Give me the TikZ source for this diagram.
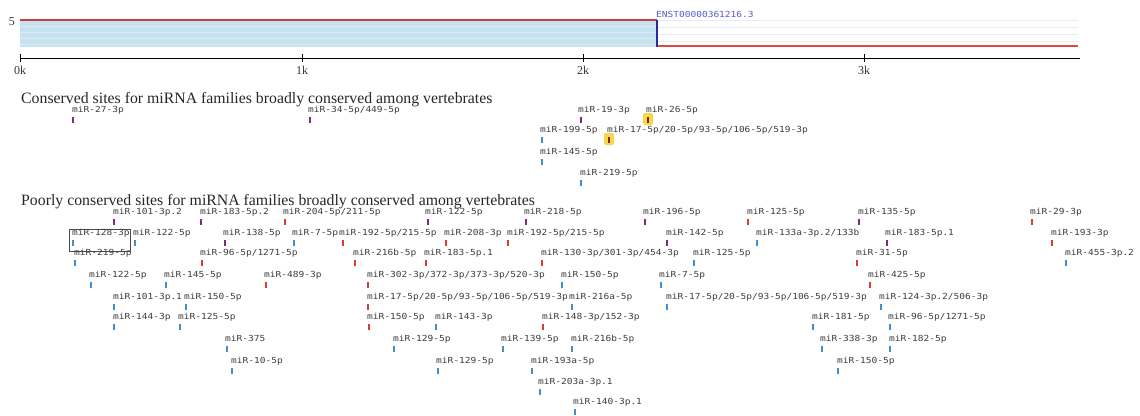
\documentclass[tikz,border=0pt]{standalone}
\usepackage{fontspec}
\setmainfont{Liberation Serif}
\newfontfamily\lblfont[FakeStretch=1.14]{DejaVu Sans Mono}
\definecolor{mpurple}{HTML}{7D2B7D}
\definecolor{mred}{HTML}{D93B3B}
\definecolor{mblue}{HTML}{3D8FD6}
\definecolor{mdark}{HTML}{8C2020}
\definecolor{hlyellow}{HTML}{F6D84A}
\definecolor{lblgray}{HTML}{3C3C3C}
\definecolor{trackblue}{HTML}{C6E2F0}
\definecolor{trackred}{HTML}{C93C3C}
\definecolor{trackred2}{HTML}{E04848}
\definecolor{utrblue}{HTML}{2A2AA0}
\definecolor{enstblue}{HTML}{5A5ACC}
\definecolor{faint}{HTML}{E6EDF3}
\newcommand\mirlab[6]{%
  \node[lbl] (#1) at (#2,{-#3-2.5}) {#4};
  \node[mk,fill=#5] (#1m) at (#6,{-#3-10}) {};}
\newcommand\mirhl[5]{%
  \node[lbl] (#1) at (#2,{-#3-2.5}) {#4};
  \node[hlbox] (#1h) at (#5,{-#3-9}) {};
  \node[mk,fill=mdark] (#1m) at (#5,{-#3-10}) {};}
\begin{document}
\begin{tikzpicture}[x=1pt,y=1pt,
  lbl/.style={font=\lblfont\fontsize{8.35}{9}\selectfont, text=lblgray, anchor=base west, inner sep=0pt},
  mk/.style={draw=none, minimum width=2.8pt, minimum height=6.5pt, inner sep=0pt},
  hlbox/.style={draw=none, fill=hlyellow, rounded corners=2pt, minimum width=10pt, minimum height=12pt, inner sep=0pt},
  title/.style={font=\fontsize{15.8}{18}\selectfont, anchor=base west, inner sep=0pt, text=black!85},
  axlbl/.style={font=\fontsize{12}{14}\selectfont, inner sep=0pt, text=black!80},
  tick/.style={line width=1pt, black},
]
\useasboundingbox (0,0) rectangle (1140,-415);
% ---- transcript track
\fill[trackblue] (20,-20) rectangle (657,-47);
\foreach \yy in {26,32,38,44} \draw[white, opacity=0.35, line width=0.6pt] (20,-\yy) -- (657,-\yy);
\foreach \yy in {20,27,34,41} \draw[faint, line width=0.8pt] (657,-\yy) -- (1078,-\yy);
\draw[trackred, line width=2.8pt] (20,-20) -- (657,-20);
\draw[trackred2, line width=2.8pt] (657,-46) -- (1078,-46);
\draw[utrblue, line width=2.8pt] (657,-20) -- (657,-47);
\node[font=\lblfont\fontsize{8.35}{9}\selectfont, text=enstblue, anchor=base west, inner sep=0pt] (enst) at (656,-17) {ENST00000361216.3};
\node[axlbl] (five) at (12,-22) {5};
% ---- axis
\draw[black, line width=1pt] (20,-58) -- (1080,-58);
\foreach \xx/\tt in {20/0k,302/1k,583/2k,864/3k}{
  \draw[tick] (\xx,-54) -- (\xx,-62);
  \node[axlbl] at (\xx,-70.5) {\tt};
}
% ---- conserved
\node[title] (t1) at (21,-103.5) {Conserved sites for miRNA families broadly conserved among vertebrates};
\mirlab{c1}{72}{110}{miR-27-3p}{mpurple}{73}
\mirlab{c2}{308}{110}{miR-34-5p/449-5p}{mpurple}{310}
\mirlab{c3}{578}{110}{miR-19-3p}{mpurple}{581}
\mirhl{c4}{646}{110}{miR-26-5p}{648}
\mirlab{c5}{540}{130}{miR-199-5p}{mblue}{542}
\mirhl{c6}{607}{130}{miR-17-5p/20-5p/93-5p/106-5p/519-3p}{609}
\mirlab{c7}{540}{152}{miR-145-5p}{mblue}{542}
\mirlab{c8}{580}{173}{miR-219-5p}{mblue}{581}
% ---- poorly conserved
\node[title] (t2) at (21,-205) {Poorly conserved sites for miRNA families broadly conserved among vertebrates};
% row 1
\mirlab{a1}{113}{212}{miR-101-3p.2}{mpurple}{114}
\mirlab{a2}{200}{212}{miR-183-5p.2}{mpurple}{201}
\mirlab{a3}{283}{212}{miR-204-5p/211-5p}{mred}{285}
\mirlab{a4}{425}{212}{miR-122-5p}{mpurple}{428}
\mirlab{a5}{524}{212}{miR-218-5p}{mpurple}{526}
\mirlab{a6}{643}{212}{miR-196-5p}{mpurple}{645}
\mirlab{a7}{747}{212}{miR-125-5p}{mred}{748}
\mirlab{a8}{858}{212}{miR-135-5p}{mpurple}{859}
\mirlab{a9}{1030}{212}{miR-29-3p}{mred}{1032}
% row 2
\draw[black!70, line width=0.8pt] (69,-229) rectangle (130,-251);
\mirlab{b1}{72}{233}{miR-128-3p}{mblue}{73}
\mirlab{b2}{133}{233}{miR-122-5p}{mblue}{135}
\mirlab{b3}{223}{233}{miR-138-5p}{mpurple}{225}
\mirlab{b4}{292}{233}{miR-7-5p}{mblue}{294}
\mirlab{b5}{339}{233}{miR-192-5p/215-5p}{mred}{343}
\mirlab{b6}{444}{233}{miR-208-3p}{mred}{446}
\mirlab{b7}{507}{233}{miR-192-5p/215-5p}{mred}{508}
\mirlab{b8}{666}{233}{miR-142-5p}{mpurple}{667}
\mirlab{b9}{756}{233}{miR-133a-3p.2/133b}{mblue}{757}
\mirlab{b10}{885}{233}{miR-183-5p.1}{mpurple}{887}
\mirlab{b11}{1051}{233}{miR-193-3p}{mred}{1052}
% row 3
\mirlab{d1}{74}{253}{miR-219-5p}{mblue}{75}
\mirlab{d2}{200}{253}{miR-96-5p/1271-5p}{mred}{202}
\mirlab{d3}{353}{253}{miR-216b-5p}{mred}{355}
\mirlab{d4}{424}{253}{miR-183-5p.1}{mred}{426}
\mirlab{d5}{541}{253}{miR-130-3p/301-3p/454-3p}{mred}{542}
\mirlab{d6}{693}{253}{miR-125-5p}{mblue}{694}
\mirlab{d7}{856}{253}{miR-31-5p}{mred}{857}
\mirlab{d8}{1065}{253}{miR-455-3p.2}{mblue}{1066}
% row 4
\mirlab{e1}{89}{275}{miR-122-5p}{mblue}{91}
\mirlab{e2}{164}{275}{miR-145-5p}{mblue}{166}
\mirlab{e3}{264}{275}{miR-489-3p}{mred}{266}
\mirlab{e4}{367}{275}{miR-302-3p/372-3p/373-3p/520-3p}{mred}{368}
\mirlab{e5}{561}{275}{miR-150-5p}{mblue}{562}
\mirlab{e6}{659}{275}{miR-7-5p}{mblue}{661}
\mirlab{e7}{868}{275}{miR-425-5p}{mred}{870}
% row 5
\mirlab{f1}{113}{297}{miR-101-3p.1}{mblue}{114}
\mirlab{f2}{184}{297}{miR-150-5p}{mblue}{186}
\mirlab{f3}{367}{297}{miR-17-5p/20-5p/93-5p/106-5p/519-3p}{mred}{368}
\mirlab{f4}{569}{297}{miR-216a-5p}{mblue}{572}
\mirlab{f5}{666}{297}{miR-17-5p/20-5p/93-5p/106-5p/519-3p}{mblue}{667}
\mirlab{f6}{879}{297}{miR-124-3p.2/506-3p}{mblue}{881}
% row 6
\mirlab{g1}{113}{317}{miR-144-3p}{mblue}{114}
\mirlab{g2}{178}{317}{miR-125-5p}{mblue}{180}
\mirlab{g3}{367}{317}{miR-150-5p}{mred}{369}
\mirlab{g4}{435}{317}{miR-143-3p}{mblue}{436}
\mirlab{g5}{542}{317}{miR-148-3p/152-3p}{mred}{543}
\mirlab{g6}{812}{317}{miR-181-5p}{mblue}{813}
\mirlab{g7}{888}{317}{miR-96-5p/1271-5p}{mblue}{890}
% row 7
\mirlab{h1}{225}{339}{miR-375}{mblue}{227}
\mirlab{h2}{393}{339}{miR-129-5p}{mblue}{394}
\mirlab{h3}{501}{339}{miR-139-5p}{mblue}{503}
\mirlab{h4}{571}{339}{miR-216b-5p}{mblue}{572}
\mirlab{h5}{820}{339}{miR-338-3p}{mblue}{822}
\mirlab{h6}{889}{339}{miR-182-5p}{mblue}{890}
% row 8
\mirlab{i1}{231}{361}{miR-10-5p}{mblue}{232}
\mirlab{i2}{436}{361}{miR-129-5p}{mblue}{438}
\mirlab{i3}{531}{361}{miR-193a-5p}{mblue}{532}
\mirlab{i4}{837}{361}{miR-150-5p}{mblue}{838}
% row 9, 10
\mirlab{j1}{538}{382}{miR-203a-3p.1}{mblue}{540}
\mirlab{k1}{573}{402}{miR-140-3p.1}{mblue}{575}
\end{tikzpicture}
\end{document}
